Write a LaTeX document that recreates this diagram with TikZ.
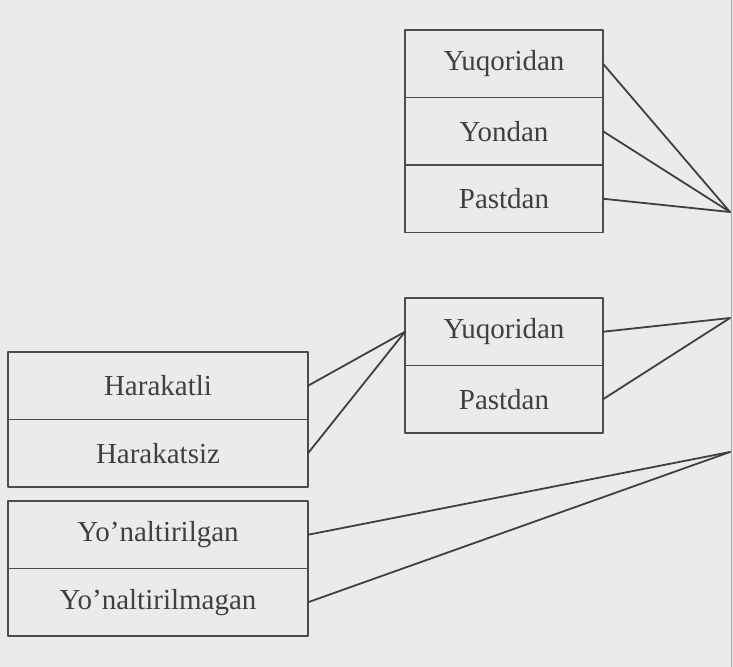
\documentclass[tikz,border=0pt]{standalone}
\usepackage{fontspec}
\setmainfont{Liberation Serif}
\usetikzlibrary{positioning}
\begin{document}
\begin{tikzpicture}[x=0.5pt,y=-0.5pt,line join=round,line cap=round,
    every node/.style={font=\fontsize{14.5}{17}\selectfont,text=black!75},
    cell/.style={draw=black!70,line width=0.8pt,minimum height=33.75pt,inner sep=0pt,outer sep=0pt},
    narrowcell/.style={cell,minimum width=99pt},
    widecell/.style={cell,minimum width=150pt},
    link/.style={draw=black!75,line width=0.9pt}]
    \fill[black!8] (0,0) rectangle (733,667);
    \useasboundingbox (0,0) rectangle (733,667);
    % edge of the parent box on the right
    \draw[black!35,line width=0.5pt] (731,0) -- (731,667);
    \coordinate (top) at (730,212);
    \coordinate (mid) at (730,318);
    \coordinate (low) at (730,452);
    % upper group
    \node[narrowcell,anchor=north west] (yuq1) at (405,30) {Yuqoridan};
    \node[narrowcell,below=0pt of yuq1] (yon1) {Yondan};
    \node[narrowcell,below=0pt of yon1] (pas1) {Pastdan};
    % middle group
    \node[narrowcell,anchor=north west] (yuq2) at (405,298) {Yuqoridan};
    \node[narrowcell,below=0pt of yuq2] (pas2) {Pastdan};
    % left groups
    \node[widecell,anchor=north west] (har) at (8,352) {Harakatli};
    \node[widecell,below=0pt of har] (harz) {Harakatsiz};
    \node[widecell,anchor=north west] (ynl) at (8,501) {Yo'naltirilgan};
    \node[widecell,below=0pt of ynl] (ynlm) {Yo'naltirilmagan};
    % connectors
    \draw[link] (yuq1.east) -- (top);
    \draw[link] (yon1.east) -- (top);
    \draw[link] (pas1.east) -- (top);
    \draw[link] (yuq2.east) -- (mid);
    \draw[link] (pas2.east) -- (mid);
    \draw[link] (har.east) -- (yuq2.west);
    \draw[link] (harz.east) -- (yuq2.west);
    \draw[link] (ynl.east) -- (low);
    \draw[link] (ynlm.east) -- (low);
\end{tikzpicture}
\end{document}
